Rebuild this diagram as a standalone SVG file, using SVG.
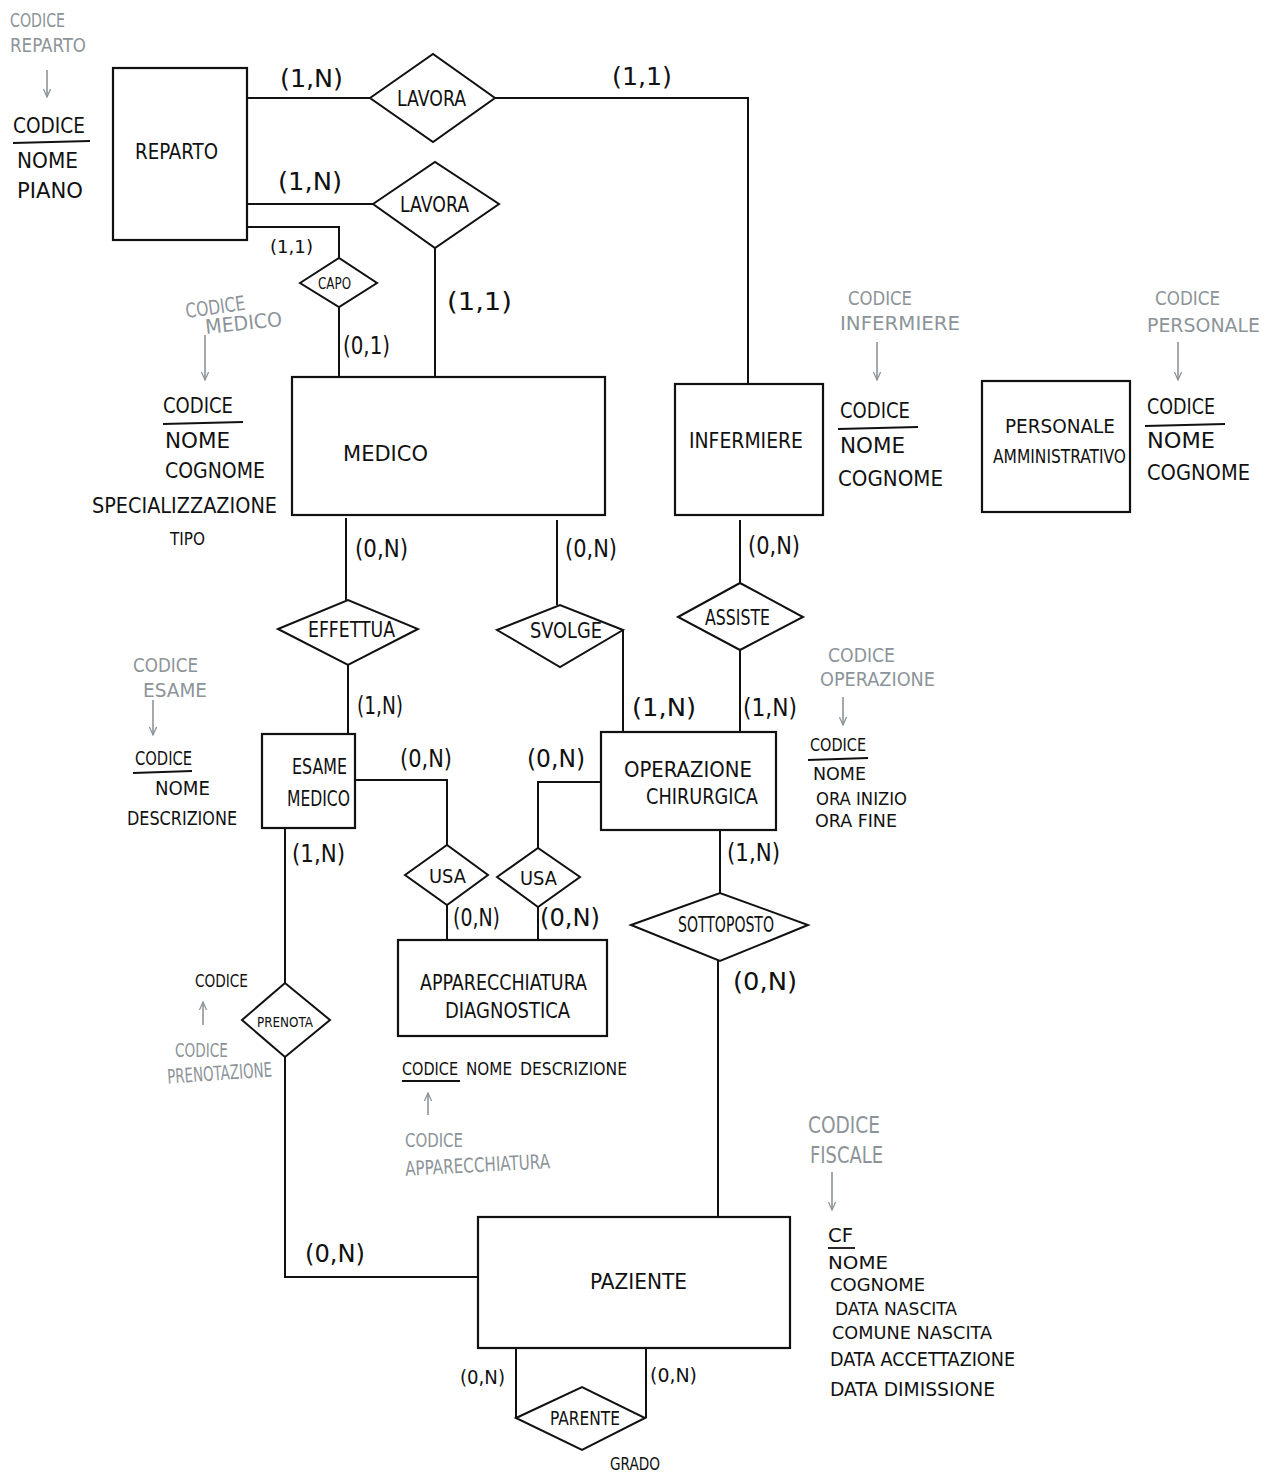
<svg xmlns="http://www.w3.org/2000/svg" width="1271" height="1474" viewBox="0 0 1271 1474">
<defs>
<style>
.bg{fill:#ffffff}
.ent{fill:#ffffff;stroke:#111;stroke-width:2.2}
.rel{fill:#ffffff;stroke:#111;stroke-width:2}
.con{fill:none;stroke:#111;stroke-width:2}
text{font-family:"DejaVu Sans Condensed","Liberation Sans Narrow","Liberation Sans",sans-serif;fill:#111}
.t{font-size:22px}
.card{font-size:25px}
.attr{font-size:21px}
.note{font-size:20px;fill:#8c9499}
.ul{stroke:#111;stroke-width:1.8}
.ar{stroke:#8c9499;stroke-width:1.6;fill:none}
</style>
<marker id="ah" viewBox="0 0 10 10" refX="9" refY="5" markerWidth="9" markerHeight="9" orient="auto" markerUnits="userSpaceOnUse">
<path d="M0 1 L9 5 L0 9" fill="none" stroke="#8c9499" stroke-width="1.4"/>
</marker>
</defs>
<rect class="bg" x="0" y="0" width="1271" height="1474"/>

<g id="connectors">
<path class="con" d="M247 98 H370"/>
<path class="con" d="M495 98 H748 V384"/>
<path class="con" d="M247 204 H373"/>
<path class="con" d="M435 248 V377"/>
<path class="con" d="M247 227 H339 V258"/>
<path class="con" d="M339 307 V377"/>
<path class="con" d="M346 518 V600"/>
<path class="con" d="M348 665 V734"/>
<path class="con" d="M557 520 V605"/>
<path class="con" d="M623 630 V732"/>
<path class="con" d="M740 520 V583"/>
<path class="con" d="M740 650 V732"/>
<path class="con" d="M355 780 H447 V845"/>
<path class="con" d="M447 905 V940"/>
<path class="con" d="M601 782 H538 V848"/>
<path class="con" d="M538 907 V940"/>
<path class="con" d="M285 828 V983"/>
<path class="con" d="M285 1057 V1277 H478"/>
<path class="con" d="M720 830 V893"/>
<path class="con" d="M718 961 V1217"/>
<path class="con" d="M516 1348 V1418"/>
<path class="con" d="M646 1348 V1418"/>
<text class="card" x="280" y="87" textLength="63" lengthAdjust="spacingAndGlyphs">(1,N)</text>
<text class="card" x="612" y="85" textLength="60" lengthAdjust="spacingAndGlyphs">(1,1)</text>
<text class="card" x="278" y="190" textLength="64" lengthAdjust="spacingAndGlyphs">(1,N)</text>
<text class="card" x="270" y="253" style="font-size:18px" textLength="43" lengthAdjust="spacingAndGlyphs">(1,1)</text>
<text class="card" x="447" y="310" textLength="65" lengthAdjust="spacingAndGlyphs">(1,1)</text>
<text class="card" x="343" y="354" textLength="47" lengthAdjust="spacingAndGlyphs">(0,1)</text>
<text class="card" x="355" y="557" textLength="53" lengthAdjust="spacingAndGlyphs">(0,N)</text>
<text class="card" x="565" y="557" textLength="52" lengthAdjust="spacingAndGlyphs">(0,N)</text>
<text class="card" x="748" y="554" textLength="52" lengthAdjust="spacingAndGlyphs">(0,N)</text>
<text class="card" x="357" y="714" textLength="46" lengthAdjust="spacingAndGlyphs">(1,N)</text>
<text class="card" x="632" y="716" textLength="64" lengthAdjust="spacingAndGlyphs">(1,N)</text>
<text class="card" x="743" y="716" textLength="54" lengthAdjust="spacingAndGlyphs">(1,N)</text>
<text class="card" x="400" y="767" textLength="52" lengthAdjust="spacingAndGlyphs">(0,N)</text>
<text class="card" x="527" y="767" textLength="58" lengthAdjust="spacingAndGlyphs">(0,N)</text>
<text class="card" x="292" y="862" textLength="53" lengthAdjust="spacingAndGlyphs">(1,N)</text>
<text class="card" x="453" y="926" textLength="47" lengthAdjust="spacingAndGlyphs">(0,N)</text>
<text class="card" x="540" y="926" textLength="60" lengthAdjust="spacingAndGlyphs">(0,N)</text>
<text class="card" x="727" y="861" textLength="53" lengthAdjust="spacingAndGlyphs">(1,N)</text>
<text class="card" x="733" y="990" textLength="64" lengthAdjust="spacingAndGlyphs">(0,N)</text>
<text class="card" x="305" y="1262" textLength="60" lengthAdjust="spacingAndGlyphs">(0,N)</text>
<text class="card" x="460" y="1384" style="font-size:20px" textLength="45" lengthAdjust="spacingAndGlyphs">(0,N)</text>
<text class="card" x="650" y="1382" style="font-size:20px" textLength="47" lengthAdjust="spacingAndGlyphs">(0,N)</text>
</g>

<g id="reparto">
<rect class="ent" x="113" y="68" width="134" height="172"/>
<text class="t" x="135" y="159" textLength="83" lengthAdjust="spacingAndGlyphs">REPARTO</text>
<text class="attr" x="13" y="133" textLength="72" lengthAdjust="spacingAndGlyphs">CODICE</text>
<line class="ul" x1="13" y1="143" x2="90" y2="141"/>
<text class="attr" x="17" y="168" textLength="61" lengthAdjust="spacingAndGlyphs">NOME</text>
<text class="attr" x="17" y="198" textLength="66" lengthAdjust="spacingAndGlyphs">PIANO</text>
<text class="note" x="10" y="27" textLength="55" lengthAdjust="spacingAndGlyphs">CODICE</text>
<text class="note" x="10" y="52" textLength="76" lengthAdjust="spacingAndGlyphs">REPARTO</text>
<line class="ar" x1="47" y1="70" x2="47" y2="97" marker-end="url(#ah)"/>
</g>

<g id="lavora1">
<polygon class="rel" points="370,98 433,54 495,98 433,142"/>
<text class="t" x="397" y="106" textLength="69" lengthAdjust="spacingAndGlyphs">LAVORA</text>
</g>

<g id="lavora2">
<polygon class="rel" points="373,204 435,162 499,204 435,248"/>
<text class="t" x="400" y="212" textLength="69" lengthAdjust="spacingAndGlyphs">LAVORA</text>
</g>

<g id="capo">
<polygon class="rel" points="300,283 339,258 377,283 339,307"/>
<text class="t" x="318" y="289" style="font-size:15px" textLength="33" lengthAdjust="spacingAndGlyphs">CAPO</text>
</g>

<g id="medico">
<rect class="ent" x="292" y="377" width="313" height="138"/>
<text class="t" x="343" y="461" textLength="85" lengthAdjust="spacingAndGlyphs">MEDICO</text>
<text class="attr" x="163" y="413" textLength="70" lengthAdjust="spacingAndGlyphs">CODICE</text>
<line class="ul" x1="163" y1="424" x2="243" y2="422"/>
<text class="attr" x="165" y="448" textLength="65" lengthAdjust="spacingAndGlyphs">NOME</text>
<text class="attr" x="165" y="478" textLength="100" lengthAdjust="spacingAndGlyphs">COGNOME</text>
<text class="attr" x="92" y="513" textLength="185" lengthAdjust="spacingAndGlyphs">SPECIALIZZAZIONE</text>
<text class="attr" x="170" y="545" style="font-size:18px" textLength="35" lengthAdjust="spacingAndGlyphs">TIPO</text>
<text class="note" x="185" y="314" textLength="60" lengthAdjust="spacingAndGlyphs" transform="rotate(-8 215 305)">CODICE</text>
<text class="note" x="205" y="330" textLength="77" lengthAdjust="spacingAndGlyphs" transform="rotate(-6 243 322)">MEDICO</text>
<line class="ar" x1="205" y1="335" x2="205" y2="380" marker-end="url(#ah)"/>
</g>

<g id="infermiere">
<rect class="ent" x="675" y="384" width="148" height="131"/>
<text class="t" x="689" y="448" textLength="114" lengthAdjust="spacingAndGlyphs">INFERMIERE</text>
<text class="attr" x="840" y="418" textLength="70" lengthAdjust="spacingAndGlyphs">CODICE</text>
<line class="ul" x1="838" y1="429" x2="918" y2="427"/>
<text class="attr" x="840" y="453" textLength="65" lengthAdjust="spacingAndGlyphs">NOME</text>
<text class="attr" x="838" y="486" textLength="105" lengthAdjust="spacingAndGlyphs">COGNOME</text>
<text class="note" x="848" y="305" textLength="64" lengthAdjust="spacingAndGlyphs">CODICE</text>
<text class="note" x="840" y="330" textLength="120" lengthAdjust="spacingAndGlyphs">INFERMIERE</text>
<line class="ar" x1="877" y1="342" x2="877" y2="380" marker-end="url(#ah)"/>
</g>

<g id="personale">
<rect class="ent" x="982" y="381" width="148" height="131"/>
<text class="t" x="1005" y="433" style="font-size:20px" textLength="110" lengthAdjust="spacingAndGlyphs">PERSONALE</text>
<text class="t" x="993" y="463" style="font-size:20px" textLength="133" lengthAdjust="spacingAndGlyphs">AMMINISTRATIVO</text>
<text class="attr" x="1147" y="414" textLength="68" lengthAdjust="spacingAndGlyphs">CODICE</text>
<line class="ul" x1="1145" y1="426" x2="1225" y2="424"/>
<text class="attr" x="1147" y="448" textLength="68" lengthAdjust="spacingAndGlyphs">NOME</text>
<text class="attr" x="1147" y="480" textLength="103" lengthAdjust="spacingAndGlyphs">COGNOME</text>
<text class="note" x="1155" y="305" textLength="65" lengthAdjust="spacingAndGlyphs">CODICE</text>
<text class="note" x="1147" y="332" textLength="113" lengthAdjust="spacingAndGlyphs">PERSONALE</text>
<line class="ar" x1="1178" y1="342" x2="1178" y2="380" marker-end="url(#ah)"/>
</g>

<g id="effettua">
<polygon class="rel" points="278,629 348,600 418,629 348,665"/>
<text class="t" x="308" y="637" textLength="87" lengthAdjust="spacingAndGlyphs">EFFETTUA</text>
</g>

<g id="svolge">
<polygon class="rel" points="497,630 560,605 623,630 560,667"/>
<text class="t" x="530" y="638" textLength="72" lengthAdjust="spacingAndGlyphs">SVOLGE</text>
</g>

<g id="assiste">
<polygon class="rel" points="678,617 740,583 803,617 740,650"/>
<text class="t" x="705" y="625" textLength="65" lengthAdjust="spacingAndGlyphs">ASSISTE</text>
</g>

<g id="esame_medico">
<rect class="ent" x="262" y="734" width="93" height="94"/>
<text class="t" x="292" y="774" textLength="55" lengthAdjust="spacingAndGlyphs">ESAME</text>
<text class="t" x="287" y="806" textLength="63" lengthAdjust="spacingAndGlyphs">MEDICO</text>
<text class="attr" x="135" y="765" style="font-size:20px" textLength="57" lengthAdjust="spacingAndGlyphs">CODICE</text>
<line class="ul" x1="133" y1="773" x2="192" y2="771"/>
<text class="attr" x="155" y="795" style="font-size:20px" textLength="55" lengthAdjust="spacingAndGlyphs">NOME</text>
<text class="attr" x="127" y="825" style="font-size:20px" textLength="110" lengthAdjust="spacingAndGlyphs">DESCRIZIONE</text>
<text class="note" x="133" y="672" textLength="65" lengthAdjust="spacingAndGlyphs">CODICE</text>
<text class="note" x="143" y="697" textLength="64" lengthAdjust="spacingAndGlyphs">ESAME</text>
<line class="ar" x1="153" y1="700" x2="153" y2="735" marker-end="url(#ah)"/>
</g>

<g id="operazione_chirurgica">
<rect class="ent" x="601" y="732" width="175" height="98"/>
<text class="t" x="624" y="777" textLength="128" lengthAdjust="spacingAndGlyphs">OPERAZIONE</text>
<text class="t" x="646" y="804" textLength="112" lengthAdjust="spacingAndGlyphs">CHIRURGICA</text>
<text class="attr" x="810" y="751" style="font-size:17px" textLength="56" lengthAdjust="spacingAndGlyphs">CODICE</text>
<line class="ul" x1="808" y1="760" x2="868" y2="758"/>
<text class="attr" x="813" y="780" style="font-size:17px" textLength="53" lengthAdjust="spacingAndGlyphs">NOME</text>
<text class="attr" x="816" y="805" style="font-size:17px" textLength="91" lengthAdjust="spacingAndGlyphs">ORA INIZIO</text>
<text class="attr" x="815" y="827" style="font-size:17px" textLength="82" lengthAdjust="spacingAndGlyphs">ORA FINE</text>
<text class="note" x="828" y="662" textLength="67" lengthAdjust="spacingAndGlyphs">CODICE</text>
<text class="note" x="820" y="686" textLength="115" lengthAdjust="spacingAndGlyphs">OPERAZIONE</text>
<line class="ar" x1="843" y1="697" x2="843" y2="725" marker-end="url(#ah)"/>
</g>

<g id="usa1">
<polygon class="rel" points="405,875 447,845 488,875 447,905"/>
<text class="t" x="429" y="883" style="font-size:20px" textLength="37" lengthAdjust="spacingAndGlyphs">USA</text>
</g>

<g id="usa2">
<polygon class="rel" points="497,877 538,848 580,877 538,907"/>
<text class="t" x="520" y="885" style="font-size:20px" textLength="37" lengthAdjust="spacingAndGlyphs">USA</text>
</g>

<g id="apparecchiatura_diagnostica">
<rect class="ent" x="398" y="940" width="209" height="96"/>
<text class="t" x="420" y="990" textLength="167" lengthAdjust="spacingAndGlyphs">APPARECCHIATURA</text>
<text class="t" x="445" y="1018" textLength="125" lengthAdjust="spacingAndGlyphs">DIAGNOSTICA</text>
<text class="attr" x="402" y="1075" style="font-size:18px" textLength="56" lengthAdjust="spacingAndGlyphs">CODICE</text>
<line class="ul" x1="402" y1="1081" x2="460" y2="1081"/>
<text class="attr" x="466" y="1075" style="font-size:18px" textLength="46" lengthAdjust="spacingAndGlyphs">NOME</text>
<text class="attr" x="520" y="1075" style="font-size:18px" textLength="107" lengthAdjust="spacingAndGlyphs">DESCRIZIONE</text>
<line class="ar" x1="428" y1="1115" x2="428" y2="1093" marker-end="url(#ah)"/>
<text class="note" x="405" y="1147" textLength="58" lengthAdjust="spacingAndGlyphs">CODICE</text>
<text class="note" x="405" y="1172" textLength="145" lengthAdjust="spacingAndGlyphs" transform="rotate(-3 477 1165)">APPARECCHIATURA</text>
</g>

<g id="prenota">
<polygon class="rel" points="242,1020 285,983 330,1020 285,1057"/>
<text class="t" x="257" y="1027" style="font-size:14px" textLength="56" lengthAdjust="spacingAndGlyphs">PRENOTA</text>
<text class="attr" x="195" y="987" style="font-size:18px" textLength="53" lengthAdjust="spacingAndGlyphs">CODICE</text>
<line class="ar" x1="203" y1="1025" x2="203" y2="1002" marker-end="url(#ah)"/>
<text class="note" x="175" y="1057" textLength="53" lengthAdjust="spacingAndGlyphs">CODICE</text>
<text class="note" x="167" y="1080" textLength="105" lengthAdjust="spacingAndGlyphs" transform="rotate(-4 220 1072)">PRENOTAZIONE</text>
</g>

<g id="sottoposto">
<polygon class="rel" points="631,925 720,893 808,925 720,961"/>
<text class="t" x="678" y="932" textLength="96" lengthAdjust="spacingAndGlyphs">SOTTOPOSTO</text>
</g>

<g id="paziente">
<rect class="ent" x="478" y="1217" width="312" height="131"/>
<text class="t" x="590" y="1289" textLength="97" lengthAdjust="spacingAndGlyphs">PAZIENTE</text>
<text class="attr" x="828" y="1242" style="font-size:19px" textLength="25" lengthAdjust="spacingAndGlyphs">CF</text>
<line class="ul" x1="828" y1="1248" x2="855" y2="1248"/>
<text class="attr" x="828" y="1269" style="font-size:17px" textLength="60" lengthAdjust="spacingAndGlyphs">NOME</text>
<text class="attr" x="830" y="1291" style="font-size:17px" textLength="95" lengthAdjust="spacingAndGlyphs">COGNOME</text>
<text class="attr" x="835" y="1315" style="font-size:18px" textLength="122" lengthAdjust="spacingAndGlyphs">DATA NASCITA</text>
<text class="attr" x="832" y="1339" style="font-size:18px" textLength="160" lengthAdjust="spacingAndGlyphs">COMUNE NASCITA</text>
<text class="attr" x="830" y="1366" style="font-size:20px" textLength="185" lengthAdjust="spacingAndGlyphs">DATA ACCETTAZIONE</text>
<text class="attr" x="830" y="1396" style="font-size:20px" textLength="165" lengthAdjust="spacingAndGlyphs">DATA DIMISSIONE</text>
<text class="note" x="808" y="1133" style="font-size:23px" textLength="72" lengthAdjust="spacingAndGlyphs">CODICE</text>
<text class="note" x="810" y="1163" style="font-size:23px" textLength="73" lengthAdjust="spacingAndGlyphs">FISCALE</text>
<line class="ar" x1="832" y1="1172" x2="832" y2="1210" marker-end="url(#ah)"/>
</g>

<g id="parente">
<polygon class="rel" points="516,1418 582,1387 645,1418 582,1450"/>
<text class="t" x="550" y="1425" style="font-size:20px" textLength="70" lengthAdjust="spacingAndGlyphs">PARENTE</text>
<text class="attr" x="610" y="1470" style="font-size:17px" textLength="50" lengthAdjust="spacingAndGlyphs">GRADO</text>
</g>
</svg>
